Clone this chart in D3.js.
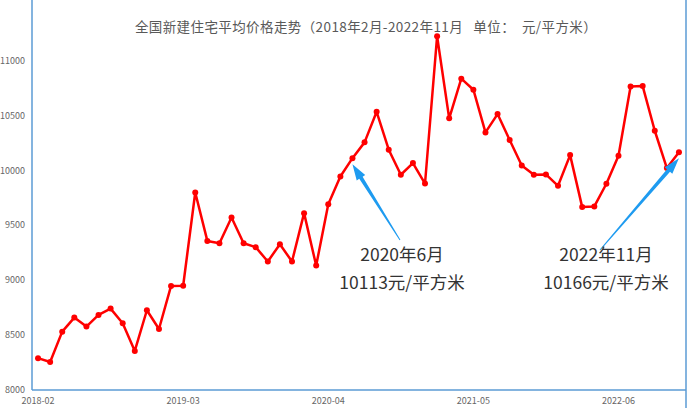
<!DOCTYPE html>
<html><head><meta charset="utf-8">
<script src="https://cdn.jsdelivr.net/npm/d3@7"></script>
<style>body{margin:0;background:#fff}svg{font-family:"Noto Sans CJK SC","Liberation Sans",sans-serif}</style>
</head><body><svg id="c" width="700" height="408"></svg>
<script>
// monthly average price, yuan / m2
var prices = [8290, 8255, 8532, 8660, 8578, 8684, 8742, 8608, 8356, 8727, 8556, 8949,
  8950, 9800, 9359, 9338, 9573, 9338, 9302, 9171, 9329, 9171, 9612, 9134,
  9694, 9946, 10113, 10257, 10536, 10190, 9962, 10068, 9882, 11224, 10476, 10838,
  10737, 10348, 10515, 10278, 10047, 9962, 9965, 9861, 10141, 9667, 9673, 9880,
  10135, 10767, 10770, 10363, 10023, 10166];
var tickLabels = ["2018-02", "2019-03", "2020-04", "2021-05", "2022-06"];
var yTicks = [8000, 8500, 9000, 9500, 10000, 10500, 11000];
var notes = [
  {idx: 26, line1: "2020年6月", line2: "10113元/平方米", tx: 402, from: [400, 240]},
  {idx: 53, line1: "2022年11月", line2: "10166元/平方米", tx: 606, from: [600, 250]}
];

var svg = d3.select("#c");
var x = d3.scaleBand().domain(d3.range(prices.length)).range([32, 685]);
var y = d3.scaleLinear().domain([8000, 11500]).range([390, 6]);
var cx = function(i) { return x(i) + x.bandwidth() / 2; };

svg.append("line").attr("x1", 32).attr("x2", 32).attr("y1", 0).attr("y2", 390).attr("stroke", "#5b9bd5").attr("stroke-width", 1.5);
svg.append("line").attr("x1", 686).attr("x2", 686).attr("y1", 0).attr("y2", 408).attr("stroke", "#5b9bd5").attr("stroke-width", 1.5);
svg.append("line").attr("x1", 32).attr("x2", 686).attr("y1", 390).attr("y2", 390).attr("stroke", "#5b9bd5").attr("stroke-width", 1.5);

svg.selectAll(".yt").data(yTicks).enter().append("text")
  .attr("x", 25).attr("y", function(d) { return y(d) + 3; })
  .attr("text-anchor", "end").attr("font-size", 9).attr("fill", "#666")
  .text(function(d) { return d; });

svg.selectAll(".xt").data(tickLabels).enter().append("text")
  .attr("x", function(d, i) { return cx(i * 12); }).attr("y", 404)
  .attr("text-anchor", "middle").attr("font-size", 9).attr("fill", "#666")
  .text(function(d) { return d; });

svg.append("text").attr("x", 366).attr("y", 32).attr("text-anchor", "middle")
  .attr("font-size", 13.5).attr("letter-spacing", 0.4).attr("fill", "#595959")
  .attr("xml:space", "preserve").style("white-space", "pre")
  .text("全国新建住宅平均价格走势（2018年2月-2022年11月   单位：  元/平方米）");

var line = d3.line().x(function(d, i) { return cx(i); }).y(function(d) { return y(d); });
svg.append("path").datum(prices).attr("d", line).attr("fill", "none")
  .attr("stroke", "#ff0000").attr("stroke-width", 2.5).attr("stroke-linejoin", "round");
svg.selectAll(".pt").data(prices).enter().append("circle")
  .attr("cx", function(d, i) { return cx(i); }).attr("cy", function(d) { return y(d); })
  .attr("r", 3).attr("fill", "#ff0000");

notes.forEach(function(n) {
  var tx = cx(n.idx), ty = y(prices[n.idx]) + 6;
  var dx = tx - n.from[0], dy = ty - n.from[1], len = Math.hypot(dx, dy);
  var ux = dx / len, uy = dy / len, px = -uy, py = ux;
  var bx = tx - ux * 16, by = ty - uy * 16;
  svg.append("path").attr("fill", "#1e9bf0")
    .attr("d", "M" + (n.from[0] + px * 0.5) + "," + (n.from[1] + py * 0.5) +
      "L" + (bx + px * 2) + "," + (by + py * 2) + "L" + (bx + px * 5) + "," + (by + py * 5) +
      "L" + tx + "," + ty + "L" + (bx - px * 5) + "," + (by - py * 5) +
      "L" + (bx - px * 2) + "," + (by - py * 2) + "L" + (n.from[0] - px * 0.5) + "," + (n.from[1] - py * 0.5) + "Z");
  svg.append("text").attr("x", n.tx).attr("y", 261).attr("text-anchor", "middle")
    .attr("font-size", 17.5).attr("fill", "#333").text(n.line1);
  svg.append("text").attr("x", n.tx).attr("y", 289).attr("text-anchor", "middle")
    .attr("font-size", 17.5).attr("fill", "#333").text(n.line2);
});
</script></body></html>
